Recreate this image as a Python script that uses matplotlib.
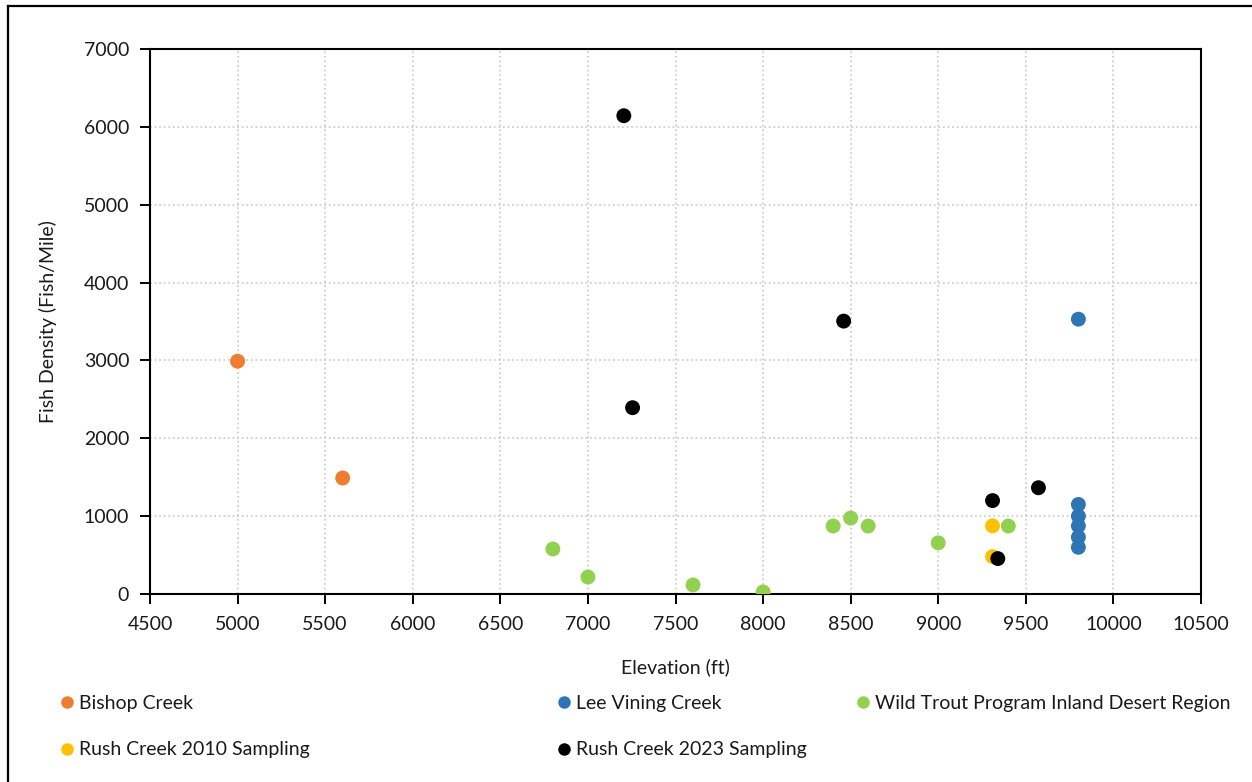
import matplotlib
matplotlib.use("Agg")
import matplotlib.pyplot as plt
from matplotlib.lines import Line2D

plt.rcParams['font.family'] = ['Lato', 'DejaVu Sans']

# data
bishop_x = [5000, 5600]
bishop_y = [2990, 1490]

lee_x = [9800, 9800, 9800, 9800, 9800, 9800]
lee_y = [3530, 1150, 1000, 875, 730, 600]

wild_x = [6800, 7000, 7600, 8000, 8400, 8500, 8600, 9000, 9400]
wild_y = [578, 218, 116, 26, 873, 976, 873, 657, 873]

rush2010_x = [9310, 9310]
rush2010_y = [875, 480]

rush2023_x = [7205, 7255, 8460, 9310, 9340, 9572]
rush2023_y = [6143, 2393, 3505, 1200, 455, 1365]

series = [
    ("Bishop Creek", bishop_x, bishop_y, "#ED7D31"),
    ("Lee Vining Creek", lee_x, lee_y, "#2E75B6"),
    ("Wild Trout Program Inland Desert Region", wild_x, wild_y, "#92D050"),
    ("Rush Creek 2010 Sampling", rush2010_x, rush2010_y, "#FFC000"),
    ("Rush Creek 2023 Sampling", rush2023_x, rush2023_y, "#000000"),
]

fs = 14

fig = plt.figure(figsize=(12.52, 7.82), dpi=100)
ax = fig.add_axes([150/1252, 1-594/782, (1201-150)/1252, (594-49)/782])

for name, xs, ys, c in series:
    ax.scatter(xs, ys, s=115, color=c, edgecolors='none', zorder=3, label=name)

ax.set_xlim(4500, 10500)
ax.set_ylim(0, 7000)
ax.set_xticks(range(4500, 10501, 500))
ax.set_yticks(range(0, 7001, 1000))
ax.grid(True, linestyle=(0, (1.2, 1.8)), color='#C8C8C8', linewidth=1.1)
ax.set_axisbelow(True)
for sp in ax.spines.values():
    sp.set_color('black')
    sp.set_linewidth(1.5)
ax.tick_params(direction='out', length=7, width=1.4, labelsize=fs,
               colors='black', labelcolor='#1a1a1a')
ax.tick_params(axis='x', pad=9)
ax.tick_params(axis='y', pad=8)
ax.set_xlabel("Elevation (ft)", fontsize=fs, color='#1a1a1a', labelpad=18)
ax.set_ylabel("Fish Density (Fish/Mile)", fontsize=fs, color='#1a1a1a', labelpad=19)

# legend entries placed individually like the original
legend_pos = [(61, 703), (558, 703), (857, 703), (61, 750), (558, 750)]
for (name, xs, ys, c), (px, py) in zip(series, legend_pos):
    h = Line2D([], [], marker='o', linestyle='none', markersize=9,
               markerfacecolor=c, markeredgecolor='none')
    fig.legend([h], [name], loc='center left', bbox_to_anchor=(px/1252, 1-py/782),
               frameon=False, fontsize=fs, handlelength=0.6, handletextpad=0.35,
               borderaxespad=0, borderpad=0, labelcolor='#1a1a1a')

# outer frame (left and top edges visible in the original)
fig.add_artist(Line2D([8/1252, 8/1252], [0, 1-5.5/782], transform=fig.transFigure,
                      color='black', linewidth=1.6))
fig.add_artist(Line2D([8/1252, 1], [1-5.5/782, 1-5.5/782], transform=fig.transFigure,
                      color='black', linewidth=1.6))

fig.savefig("out.png", dpi=100)
